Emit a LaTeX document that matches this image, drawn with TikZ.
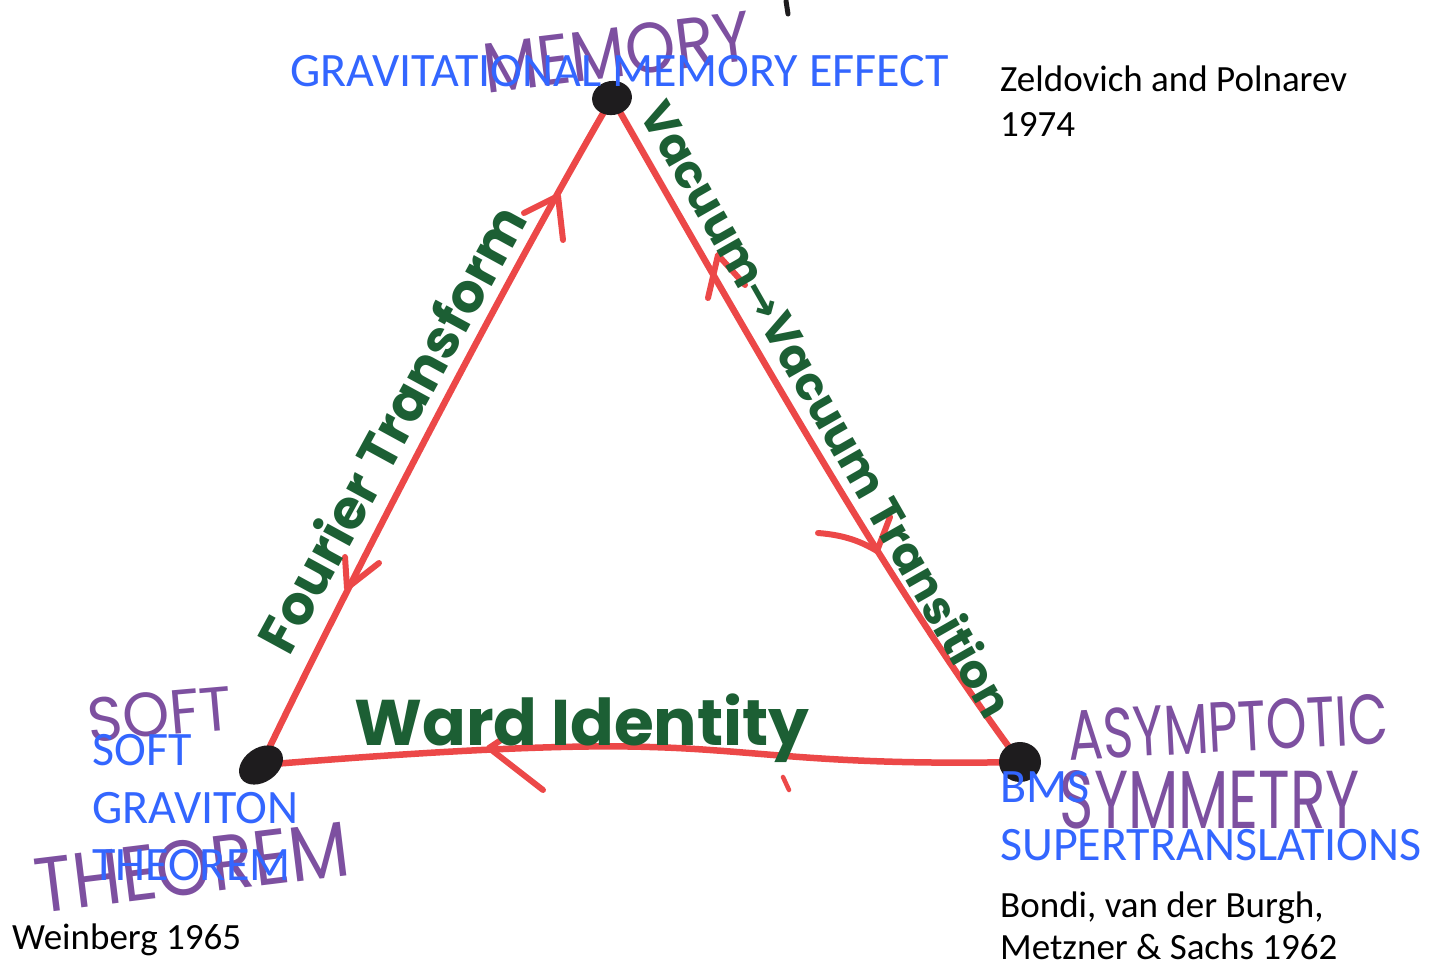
\documentclass[tikz,border=0pt]{standalone}
\usepackage{fontspec}
\setmainfont{Carlito}
\newfontfamily\handfont{Poppins}
\newfontfamily\symfont{DejaVu Sans}
\usetikzlibrary{shapes.geometric}
\definecolor{blu}{RGB}{51,102,255}
\definecolor{pen}{RGB}{236,72,72}
\definecolor{grn}{RGB}{28,95,52}
\definecolor{pur}{RGB}{125,80,160}
\definecolor{ink}{RGB}{30,28,30}
\pgfdeclarelayer{bg}
\pgfsetlayers{bg,main}
\begin{document}
\begin{tikzpicture}[x=1pt,y=-1pt,
  typed/.style={anchor=base west,inner sep=0pt,font=\fontsize{48}{58}\selectfont,text=blu},
  cite/.style={anchor=base west,inner sep=0pt,font=\fontsize{37}{44}\selectfont,text=black},
  edge/.style={draw=pen,line width=6.5pt,line cap=round,line join=round},
  chev/.style={draw=pen,line width=6pt,line cap=round,line join=round},
  vdot/.style={ellipse,fill=ink,draw=none,inner sep=0pt},
  greenhand/.style={inner sep=0pt,text=grn,font=\handfont\bfseries},
  purplehand/.style={inner sep=0pt,text=pur,font=\handfont}]
\useasboundingbox (0,0) rectangle (1437,963);
% vertices
\node[vdot,minimum width=40pt,minimum height=34pt,rotate=10] (T) at (612,98) {};
\node[vdot,minimum width=48pt,minimum height=34pt,rotate=35] (BL) at (261,765) {};
\node[vdot,minimum width=42pt,minimum height=40pt] (BR) at (1020,762) {};
\coordinate (bmid) at (650,747);
\begin{pgfonlayer}{bg}
\fill[white] (0,0) rectangle (1437,963);
\draw[edge] (T.center) .. controls (500,290) and (340,600) .. (BL.center);
\draw[edge] (T.center) .. controls (790,410) and (900,600) .. (BR.center);
\draw[edge] (BL.center) .. controls (420,752) and (560,744) .. (bmid)
                        .. controls (760,750) and (820,766) .. (BR.center);
% arrowheads
\draw[chev] (524,213) -- (558,196) -- (563,240);
\draw[chev] (379,563) -- (347,588) -- (345,557);
\draw[chev] (708,298) -- (718,255) -- (745,285);
\draw[chev] (818,533) .. controls (845,535) and (862,542) .. (877,551) -- (890,517);
\draw[chev] (507,736) -- (489,748) -- (543,790);
\draw[chev,line width=4.5pt] (783,777) -- (789,790);
\end{pgfonlayer}
% small black mark at top
\draw[ink,line width=5pt,line cap=round] (786,1) -- (788,14);
% handwritten green labels
\node[greenhand,rotate=61.4] (ft) at (390,428) {\resizebox{500pt}{!}{Fourier Transform}};
\node[greenhand,rotate=-60.3] (vt) at (828,408) {\resizebox{700pt}{!}{Vacuum{\symfont\bfseries→}Vacuum Transition}};
\node[greenhand] (wi) at (582,728) {\resizebox{455pt}{!}{Ward Identity}};
% handwritten purple labels
\node[purplehand,rotate=7] (hm) at (617,52) {\resizebox{270pt}{50pt}{MEMORY}};
\node[purplehand,rotate=5] (hs) at (160,714) {\resizebox{145pt}{44pt}{SOFT}};
\node[purplehand,rotate=7] (ht) at (192,867) {\resizebox{315pt}{55pt}{THEOREM}};
\node[purplehand,rotate=3] (ha) at (1228,727) {\resizebox{320pt}{50pt}{ASYMPTOTIC}};
\node[purplehand] (hy) at (1210,800) {\resizebox{300pt}{58pt}{SYMMETRY}};
% typed blue labels
\node[typed] (gm) at (290,87) {GRAVITATIONAL MEMORY EFFECT};
\node[typed] (s1) at (92,765) {SOFT};
\node[typed] (s2) at (92,823) {GRAVITON};
\node[typed] (s3) at (92,880) {THEOREM};
\node[typed] (b1) at (1000,802) {BMS};
\node[typed] (b2) at (1000,860) {SUPERTRANSLATIONS};
% citations
\node[cite] (z1) at (1000,92) {Zeldovich and Polnarev};
\node[cite] (z2) at (1000,136) {1974};
\node[cite] (w1) at (12,949) {Weinberg 1965};
\node[cite] (c1) at (1000,917) {Bondi, van der Burgh,};
\node[cite] (c2) at (1000,959) {Metzner \& Sachs 1962};
\end{tikzpicture}
\end{document}
